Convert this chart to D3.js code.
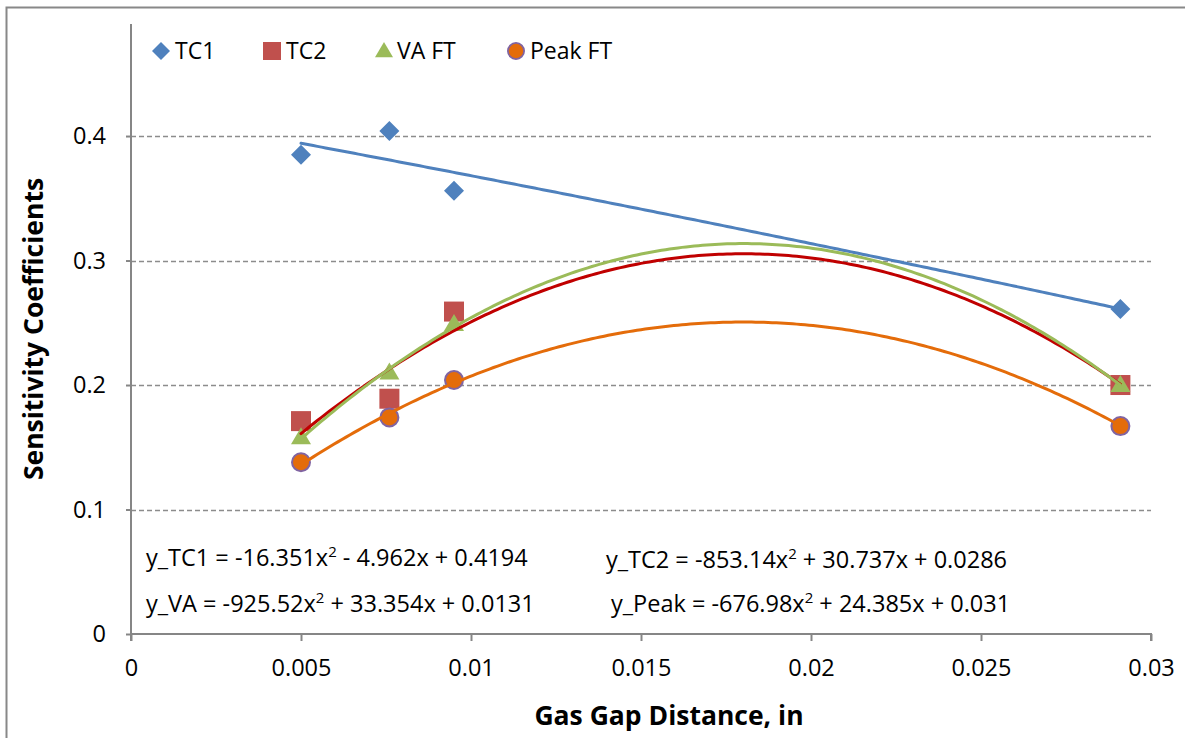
<!DOCTYPE html>
<html>
<head>
<meta charset="utf-8">
<script src="https://cdn.jsdelivr.net/npm/d3@7/dist/d3.min.js"></script>
<style>
  html, body { margin: 0; padding: 0; background: #fff; }
  svg { display: block; font-family: "Open Sans", "Noto Sans", sans-serif; }
</style>
</head>
<body>
<svg id="chart" width="1185" height="738"></svg>
<script>
// Gas gap distance (in) for each measurement
const gapDistance = [0.005, 0.0076, 0.0095, 0.0291];

// Sensitivity coefficients per series
const tc1Values  = [0.385, 0.404, 0.356, 0.261];
const tc2Values  = [0.171, 0.189, 0.259, 0.200];
const vaValues   = [0.158, 0.210, 0.249, 0.200];
const peakValues = [0.138, 0.174, 0.204, 0.167];

// Second-order polynomial trendline coefficients [a, b, c] for a*x^2 + b*x + c
const tc1Fit  = [-16.351, -4.962, 0.4194];
const tc2Fit  = [-853.14, 30.737, 0.0286];
const vaFit   = [-925.52, 33.354, 0.0131];
const peakFit = [-676.98, 24.385, 0.031];

const seriesNames = ["TC1", "TC2", "VA FT", "Peak FT"];
const xTicks = [0, 0.005, 0.01, 0.015, 0.02, 0.025, 0.03];
const yTicks = [0, 0.1, 0.2, 0.3, 0.4];

const equationLabels = [
  {pre: "y_TC1 = -16.351x", post: " - 4.962x + 0.4194"},
  {pre: "y_TC2 = -853.14x", post: " + 30.737x + 0.0286"},
  {pre: "y_VA = -925.52x", post: " + 33.354x + 0.0131"},
  {pre: "y_Peak = -676.98x", post: " + 24.385x + 0.031"}
];

const svg = d3.select("#chart");

// outer chart frame
svg.append("rect")
  .attr("x", 6.5).attr("y", 7.5).attr("width", 1200).attr("height", 760)
  .attr("fill", "#fff").attr("stroke", "#888").attr("stroke-width", 2);

const plot = {left: 131, right: 1151, top: 24, bottom: 634};

const x = d3.scaleLinear().domain([0, 0.03]).range([plot.left, plot.right]);
const y = d3.scaleLinear().domain([0, 0.49]).range([plot.bottom, plot.top]);

// horizontal dashed gridlines
svg.append("g")
  .selectAll("line")
  .data(yTicks.filter(d => d > 0))
  .join("line")
  .attr("x1", plot.left).attr("x2", plot.right)
  .attr("y1", d => Math.round(y(d)) + 0.5).attr("y2", d => Math.round(y(d)) + 0.5)
  .attr("stroke", "#8c8c8c").attr("stroke-width", 1.5)
  .attr("stroke-dasharray", "5,3");

// axes
const xAxis = d3.axisBottom(x).tickValues(xTicks).tickSize(7).tickPadding(18)
  .tickFormat(d => d === 0 ? "0" : String(+d.toFixed(3)));
const yAxis = d3.axisLeft(y).tickValues(yTicks).tickSize(5).tickPadding(20)
  .tickFormat(d => d === 0 ? "0" : d.toFixed(1));

const gx = svg.append("g").attr("transform", `translate(0,${plot.bottom})`).call(xAxis);
const gy = svg.append("g").attr("transform", `translate(${plot.left},0)`).call(yAxis);
[gx, gy].forEach(g => {
  g.select(".domain").attr("stroke", "#868686").attr("stroke-width", 2);
  g.selectAll(".tick line").attr("stroke", "#868686").attr("stroke-width", 2);
  g.selectAll(".tick text").attr("fill", "#000").style("font-size", "23.5px")
    .style("font-family", "'Open Sans', sans-serif");
});
gx.select(".domain").attr("d", `M${plot.left},7V0H${plot.right}V7`);
gy.select(".domain").attr("d", `M0,${plot.top}V${plot.bottom}`);

// axis titles
svg.append("text")
  .attr("x", 669).attr("y", 725)
  .attr("text-anchor", "middle")
  .style("font-size", "26.5px").style("font-weight", "bold")
  .text("Gas Gap Distance, in");
svg.append("text")
  .attr("transform", "translate(43,329) rotate(-90)")
  .attr("text-anchor", "middle")
  .style("font-size", "26.5px").style("font-weight", "bold")
  .text("Sensitivity Coefficients");

const series = [
  {name: seriesNames[0], values: tc1Values,  fit: tc1Fit,  fill: "#4f81bd", stroke: "none",    line: "#4f81bd", shape: "diamond"},
  {name: seriesNames[1], values: tc2Values,  fit: tc2Fit,  fill: "#c0504d", stroke: "none",    line: "#c00000", shape: "square"},
  {name: seriesNames[2], values: vaValues,   fit: vaFit,   fill: "#9bbb59", stroke: "none",    line: "#9bbb59", shape: "triangle"},
  {name: seriesNames[3], values: peakValues, fit: peakFit, fill: "#e46c0a", stroke: "#8064a2", line: "#e46c0a", shape: "circle"}
];

function drawMarker(g, shape, fill, stroke) {
  if (shape === "diamond") {
    g.append("path").attr("d", "M0,-10L10,0L0,10L-10,0Z").attr("fill", fill);
  } else if (shape === "square") {
    g.append("rect").attr("x", -10).attr("y", -10).attr("width", 20).attr("height", 20).attr("fill", fill);
  } else if (shape === "triangle") {
    g.append("path").attr("d", "M0,-10L10,7L-10,7Z").attr("fill", fill);
  } else {
    g.append("circle").attr("r", 9).attr("fill", fill).attr("stroke", stroke).attr("stroke-width", 2);
  }
}

// data markers
series.forEach(s => {
  svg.append("g").selectAll("g")
    .data(gapDistance.map((d, i) => [d, s.values[i]]))
    .join("g")
    .attr("transform", d => `translate(${x(d[0])},${y(d[1])})`)
    .each(function () { drawMarker(d3.select(this), s.shape, s.fill, s.stroke); });
});

// polynomial trendlines across the measured range
const xMin = d3.min(gapDistance), xMax = d3.max(gapDistance);
const fitX = d3.range(0, 201).map(i => xMin + (xMax - xMin) * i / 200);
const line = d3.line().x(d => x(d[0])).y(d => y(d[1])).curve(d3.curveLinear);
series.forEach(s => {
  const [a, b, c] = s.fit;
  svg.append("path")
    .datum(fitX.map(v => [v, a * v * v + b * v + c]))
    .attr("d", line)
    .attr("fill", "none")
    .attr("stroke", s.line)
    .attr("stroke-width", 3)
    .attr("stroke-linecap", "round");
});

// legend
const legendPos = [
  {mx: 161, tx: 175},
  {mx: 272, tx: 286},
  {mx: 384, tx: 397},
  {mx: 516, tx: 530}
];
series.forEach((s, i) => {
  const g = svg.append("g").attr("transform", `translate(${legendPos[i].mx},51) scale(0.9)`);
  drawMarker(g, s.shape, s.fill, s.stroke);
  svg.append("text")
    .attr("x", legendPos[i].tx).attr("y", 59)
    .style("font-size", "23px")
    .text(s.name);
});

// trendline equations
const eqPos = [
  {x: 146, y: 566}, {x: 606, y: 568}, {x: 146, y: 612}, {x: 611, y: 612}
];
equationLabels.forEach((e, i) => {
  const t = svg.append("text").attr("x", eqPos[i].x).attr("y", eqPos[i].y)
    .style("font-size", "23.5px");
  t.append("tspan").text(e.pre);
  t.append("tspan").attr("dy", -9).style("font-size", "15px").text("2");
  t.append("tspan").attr("dy", 9).text(e.post);
});
</script>
</body>
</html>
